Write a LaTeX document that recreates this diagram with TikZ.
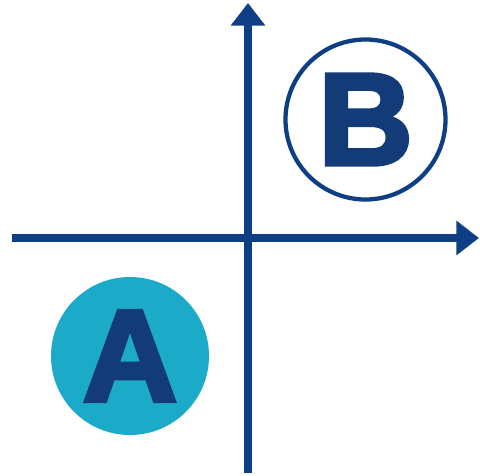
\documentclass[tikz,border=0pt]{standalone}
\usepackage{fontspec}
\setmainfont{Liberation Sans}[BoldFeatures={FakeBold=3.5}]
\usetikzlibrary{arrows.meta}

\definecolor{axisblue}{RGB}{14,63,133}
\definecolor{letterblue}{RGB}{18,59,120}
\definecolor{discteal}{RGB}{27,171,200}

\begin{document}
\begin{tikzpicture}[
  x=0.75pt, y=-0.75pt,
  axis/.style={
    draw=axisblue, line width=5.6pt,
    -{Triangle[width=25pt, length=17pt]}
  },
  disc/.style={
    circle, minimum size=118.5pt, inner sep=0pt,
    font=\fontsize{98}{98}\selectfont\bfseries, text=letterblue
  },
  filled/.style={disc, fill=discteal},
  ringed/.style={disc, fill=white, draw=axisblue, line width=3.2pt,
    minimum size=120pt},
]
\useasboundingbox (0,0) rectangle (480,476);

% the two axes, crossing at (248,238)
\coordinate (xstart) at (12,238);
\coordinate (xend)   at (479,238);
\coordinate (ystart) at (248,473);
\coordinate (yend)   at (248,3);
\draw[axis] (xstart) -- (xend);
\draw[axis] (ystart) -- (yend);

% the two quadrant markers
\node[filled] (a) at (130,356)   {A};
\node[ringed] (b) at (365.5,119.5) {B};

\end{tikzpicture}
\end{document}
